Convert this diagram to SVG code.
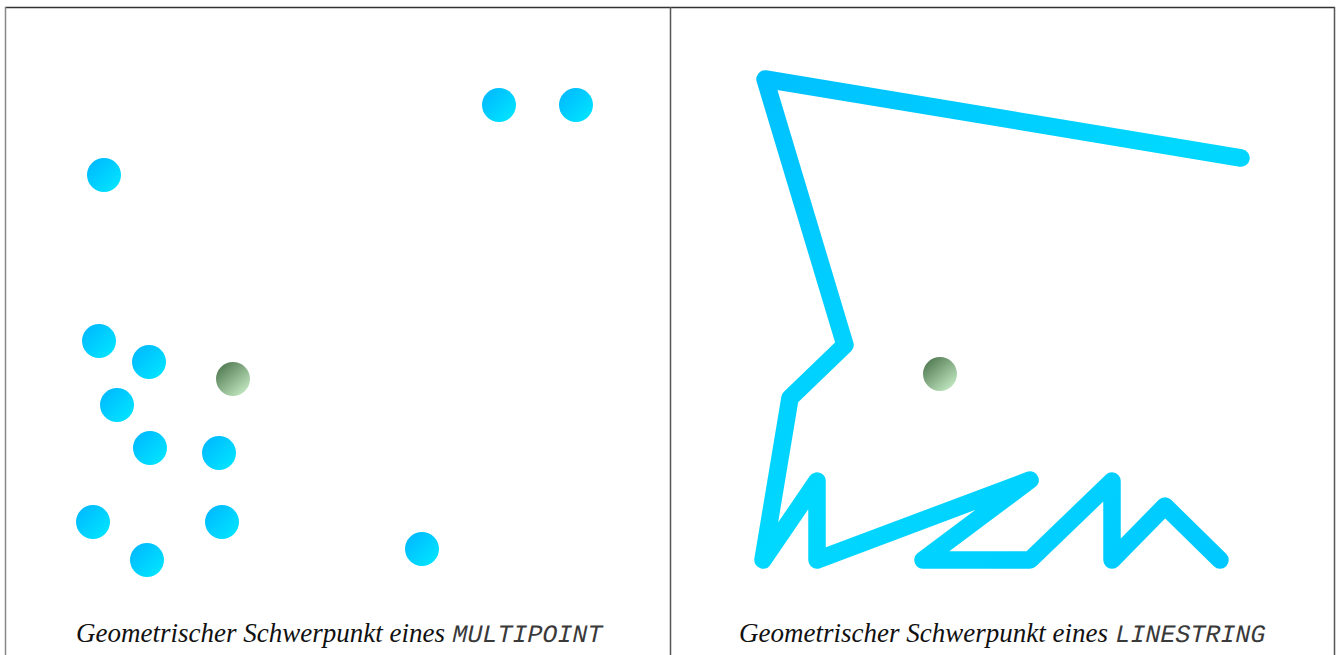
<svg xmlns="http://www.w3.org/2000/svg" width="1340" height="655" viewBox="0 0 1340 655">
<defs>
<linearGradient id="blue" x1="0" y1="0" x2="1" y2="1">
<stop offset="0" stop-color="#00b4ff"/>
<stop offset="1" stop-color="#00eaff"/>
</linearGradient>
<linearGradient id="green" x1="0.15" y1="0.1" x2="0.85" y2="0.9">
<stop offset="0" stop-color="#557d55"/>
<stop offset="1" stop-color="#bfe6bf"/>
</linearGradient>
<linearGradient id="lineg" gradientUnits="userSpaceOnUse" x1="760" y1="80" x2="1240" y2="560">
<stop offset="0" stop-color="#00c0ff"/>
<stop offset="0.5" stop-color="#00d8ff"/>
<stop offset="1" stop-color="#00c8ff"/>
</linearGradient>
<style>
.pt{fill:url(#blue)}
.cen{fill:url(#green)}
.frame{stroke:#555;stroke-width:1.5;fill:none}
.cap{font-family:"Liberation Serif",serif;font-style:italic;font-size:27px;fill:#111}
.mono{font-family:"Liberation Mono",monospace;font-size:25px;fill:#3a3a3a}
</style>
</defs>
<rect width="1340" height="655" fill="#fff"/>
<g id="frame">
<line class="frame" x1="5" y1="7.5" x2="1335" y2="7.5" style="stroke:#333"/>
<line class="frame" x1="5.5" y1="7" x2="5.5" y2="655" style="stroke:#888"/>
<line class="frame" x1="670.5" y1="7" x2="670.5" y2="655"/>
<line class="frame" x1="1334.5" y1="7" x2="1334.5" y2="655"/>
</g>
<g id="multipoint">
<circle class="pt" cx="104" cy="175" r="17"/>
<circle class="pt" cx="499" cy="105" r="17"/>
<circle class="pt" cx="576" cy="105" r="17"/>
<circle class="pt" cx="99" cy="341" r="17"/>
<circle class="pt" cx="149" cy="362" r="17"/>
<circle class="pt" cx="117" cy="405" r="17"/>
<circle class="pt" cx="150" cy="448" r="17"/>
<circle class="pt" cx="219" cy="453" r="17"/>
<circle class="pt" cx="93" cy="522" r="17"/>
<circle class="pt" cx="222" cy="522" r="17"/>
<circle class="pt" cx="147" cy="560" r="17"/>
<circle class="pt" cx="422" cy="549" r="17"/>
</g>
<g id="centroid-multipoint">
<circle class="cen" cx="233" cy="379" r="17"/>
</g>
<g id="linestring">
<polyline fill="none" stroke="url(#lineg)" stroke-width="17.5" stroke-linejoin="round" stroke-linecap="round" points="1241,158 765,79 845,345 790,398 763,560 817,481 817,560 1030,480 923,560 1030,560 1112,481 1112,560 1165,506 1220,560"/>
</g>
<g id="centroid-linestring">
<circle class="cen" cx="940" cy="374" r="17"/>
</g>
<g id="captions">
<text x="445" y="642" text-anchor="end" class="cap">Geometrischer Schwerpunkt eines</text>
<text transform="translate(451,642) skewX(-12)" class="mono">MULTIPOINT</text>
<text x="1108" y="642" text-anchor="end" class="cap">Geometrischer Schwerpunkt eines</text>
<text transform="translate(1114,642) skewX(-12)" class="mono">LINESTRING</text>
</g>
</svg>
